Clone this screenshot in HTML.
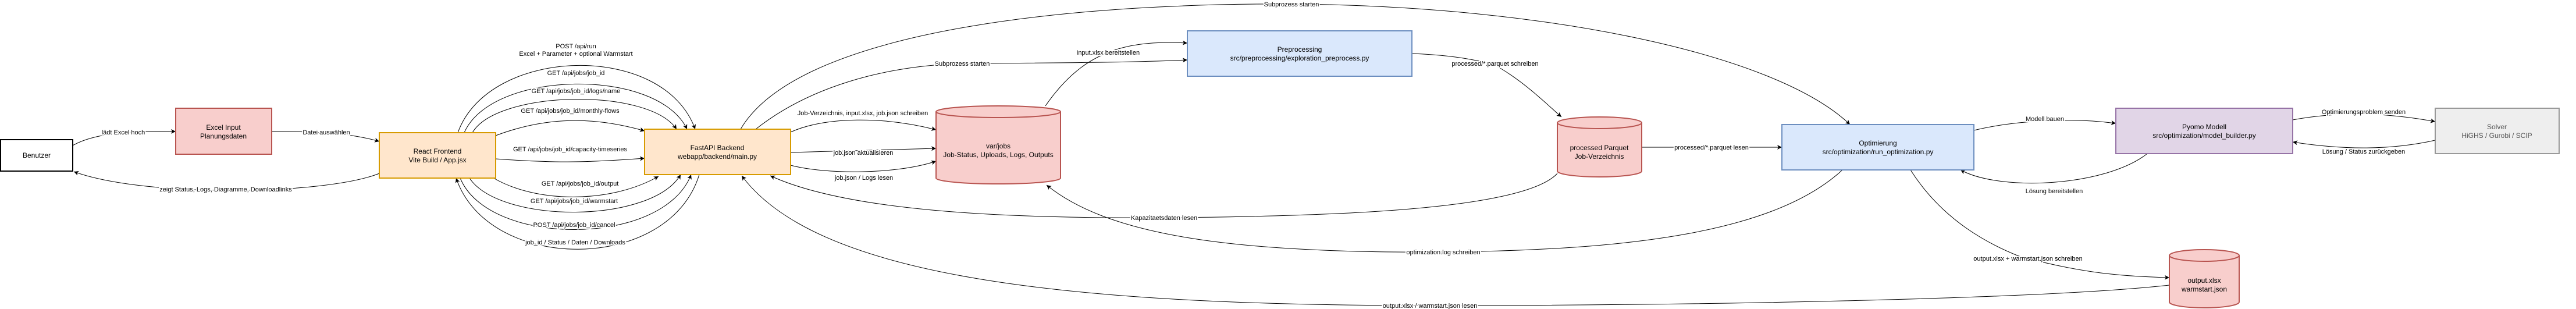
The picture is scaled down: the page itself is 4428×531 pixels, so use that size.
<!DOCTYPE html>
<html><head><meta charset="utf-8"><style>
html,body{margin:0;padding:0;background:#fff;}
svg{display:block;}
text{font-family:"Liberation Sans",Arial,sans-serif;fill:#000;}
.n{font-size:12px;text-anchor:middle;}
.e{font-size:11px;text-anchor:middle;paint-order:stroke;stroke:#fff;stroke-width:4px;stroke-linejoin:round;}
.l{fill:none;stroke:#000;stroke-width:1;marker-end:url(#a);}
</style></head><body>
<svg width="4428" height="531" viewBox="0 0 4428 531" xmlns="http://www.w3.org/2000/svg">
<defs><marker id="a" markerWidth="10" markerHeight="10" refX="8" refY="4" orient="auto" markerUnits="userSpaceOnUse"><path d="M0,0 L8,4 L0,8 L2,4 Z" fill="#000"/></marker></defs>

<!-- edges -->
<path class="l" d="M125 250 C160 230,220 224,302 226"/>
<path class="l" d="M467 226 C540 226,600 228,652 243"/>
<path class="l" d="M652 298 C560 335,250 340,127 295"/>

<path class="l" d="M787 228 C840 80,1140 70,1195 222"/>
<path class="l" d="M798 228 C845 120,1130 115,1181 222"/>
<path class="l" d="M812 228 C855 155,1115 150,1163 222"/>
<path class="l" d="M852 233 C940 200,1020 200,1108 225"/>
<path class="l" d="M852 273 C950 280,1000 280,1108 272"/>
<path class="l" d="M845 304 C920 350,1050 350,1132 303"/>
<path class="l" d="M807 306 C860 385,1120 385,1170 300"/>
<path class="l" d="M791 306 C840 425,1140 425,1188 300"/>
<path class="l" d="M1202 300 C1150 470,840 470,784 306"/>

<path class="l" d="M1359 227 C1420 200,1520 200,1609 223"/>
<path class="l" d="M1359 262 L1609 255"/>
<path class="l" d="M1359 284 C1420 300,1540 300,1609 277"/>

<path class="l" d="M1273 222 C1380 40,1900 5,2220 7 C2650 10,3050 90,3180 214"/>
<path class="l" d="M1299 222 C1390 150,1520 112,1660 109 C1850 108,1950 107,2041 103"/>
<path class="l" d="M1797 182 C1840 120,1880 100,1905 90 C1950 72,2000 72,2041 74"/>
<path class="l" d="M2427 92 C2480 94,2530 100,2570 112 C2620 140,2660 180,2684 201"/>
<path class="l" d="M2822 253 L3063 253"/>
<path class="l" d="M2677 298 C2620 360,2300 372,2001 374 C1700 376,1450 360,1324 302"/>
<path class="l" d="M3167 292 C3050 400,2800 430,2481 433 C2100 436,1900 400,1799 318"/>
<path class="l" d="M3729 490 C3500 515,2900 525,2458 525 C1800 525,1400 470,1275 302"/>
<path class="l" d="M3393 224 C3450 210,3550 200,3637 212"/>
<path class="l" d="M3691 264 C3620 320,3440 330,3370 292"/>
<path class="l" d="M3941 206 C4030 190,4110 195,4186 209"/>
<path class="l" d="M4186 241 C4110 258,4030 258,3941 244"/>
<path class="l" d="M3284 292 C3340 380,3420 420,3470 440 C3580 470,3650 475,3729 477"/>

<!-- nodes -->
<rect x="1" y="240" width="124" height="54" fill="#fff" stroke="#000" stroke-width="2"/>
<text class="n" x="63" y="271">Benutzer</text>

<rect x="302" y="186" width="165" height="79" fill="#f8cecc" stroke="#b85450" stroke-width="2"/>
<text class="n" x="384" y="223">Excel Input</text><text class="n" x="384" y="238">Planungsdaten</text>

<rect x="652" y="228" width="200" height="78" fill="#ffe6cc" stroke="#d79b00" stroke-width="2"/>
<text class="n" x="752" y="264">React Frontend</text><text class="n" x="752" y="279">Vite Build / App.jsx</text>

<rect x="1108" y="222" width="251" height="78" fill="#ffe6cc" stroke="#d79b00" stroke-width="2"/>
<text class="n" x="1233" y="258">FastAPI Backend</text><text class="n" x="1233" y="273">webapp/backend/main.py</text>

<path d="M1609 192 L1609 306 A107 10 0 0 0 1823 306 L1823 192" fill="#f8cecc" stroke="#b85450" stroke-width="2"/>
<ellipse cx="1716" cy="192" rx="107" ry="10" fill="#f8cecc" stroke="#b85450" stroke-width="2"/>
<text class="n" x="1716" y="255">var/jobs</text><text class="n" x="1716" y="270">Job-Status, Uploads, Logs, Outputs</text>

<rect x="2041" y="53" width="386" height="78" fill="#dae8fc" stroke="#6c8ebf" stroke-width="2"/>
<text class="n" x="2234" y="89">Preprocessing</text><text class="n" x="2234" y="104">src/preprocessing/exploration_preprocess.py</text>

<path d="M2677 211 L2677 294 A72.5 10 0 0 0 2822 294 L2822 211" fill="#f8cecc" stroke="#b85450" stroke-width="2"/>
<ellipse cx="2749.5" cy="211" rx="72.5" ry="10" fill="#f8cecc" stroke="#b85450" stroke-width="2"/>
<text class="n" x="2749" y="258">processed Parquet</text><text class="n" x="2749" y="273">Job-Verzeichnis</text>

<rect x="3063" y="214" width="330" height="78" fill="#dae8fc" stroke="#6c8ebf" stroke-width="2"/>
<text class="n" x="3228" y="250">Optimierung</text><text class="n" x="3228" y="265">src/optimization/run_optimization.py</text>

<rect x="3637" y="186" width="304" height="78" fill="#e1d5e7" stroke="#9673a6" stroke-width="2"/>
<text class="n" x="3789" y="222">Pyomo Modell</text><text class="n" x="3789" y="237">src/optimization/model_builder.py</text>

<rect x="4186" y="186" width="213" height="78" fill="#eeeeee" stroke="#999999" stroke-width="2"/>
<text class="n" x="4292" y="222" style="fill:#555">Solver</text><text class="n" x="4292" y="237" style="fill:#555">HiGHS / Gurobi / SCIP</text>

<path d="M3729 439 L3729 519 A60 10 0 0 0 3849 519 L3849 439" fill="#f8cecc" stroke="#b85450" stroke-width="2"/>
<ellipse cx="3789" cy="439" rx="60" ry="10" fill="#f8cecc" stroke="#b85450" stroke-width="2"/>
<text class="n" x="3789" y="486">output.xlsx</text><text class="n" x="3789" y="501">warmstart.json</text>

<!-- edge labels -->
<text class="e" x="212" y="231">lädt Excel hoch</text>
<text class="e" x="561" y="231">Datei auswählen</text>
<text class="e" x="388" y="329">zeigt Status, Logs, Diagramme, Downloadlinks</text>
<text class="e" x="990" y="83">POST /api/run</text>
<text class="e" x="990" y="96">Excel + Parameter + optional Warmstart</text>
<text class="e" x="990" y="129">GET /api/jobs/job_id</text>
<text class="e" x="990" y="160">GET /api/jobs/job_id/logs/name</text>
<text class="e" x="980" y="194">GET /api/jobs/job_id/monthly-flows</text>
<text class="e" x="980" y="260">GET /api/jobs/job_id/capacity-timeseries</text>
<text class="e" x="997" y="319">GET /api/jobs/job_id/output</text>
<text class="e" x="987" y="349">GET /api/jobs/job_id/warmstart</text>
<text class="e" x="987" y="390">POST /api/jobs/job_id/cancel</text>
<text class="e" x="989" y="420">job_id / Status / Daten / Downloads</text>
<text class="e" x="1483" y="198">Job-Verzeichnis, input.xlsx, job.json schreiben</text>
<text class="e" x="1484" y="266">job.json aktualisieren</text>
<text class="e" x="1485" y="309">job.json / Logs lesen</text>
<text class="e" x="2220" y="11">Subprozess starten</text>
<text class="e" x="1654" y="113">Subprozess starten</text>
<text class="e" x="1905" y="94">input.xlsx bereitstellen</text>
<text class="e" x="2570" y="113">processed/*.parquet schreiben</text>
<text class="e" x="2942" y="257">processed/*.parquet lesen</text>
<text class="e" x="2001" y="378">Kapazitaetsdaten lesen</text>
<text class="e" x="2481" y="437">optimization.log schreiben</text>
<text class="e" x="2458" y="529">output.xlsx / warmstart.json lesen</text>
<text class="e" x="3515" y="208">Modell bauen</text>
<text class="e" x="3531" y="332">Lösung bereitstellen</text>
<text class="e" x="4063" y="196">Optimierungsproblem senden</text>
<text class="e" x="4063" y="264">Lösung / Status zurückgeben</text>
<text class="e" x="3486" y="448">output.xlsx + warmstart.json schreiben</text>
</svg>
</body></html>
